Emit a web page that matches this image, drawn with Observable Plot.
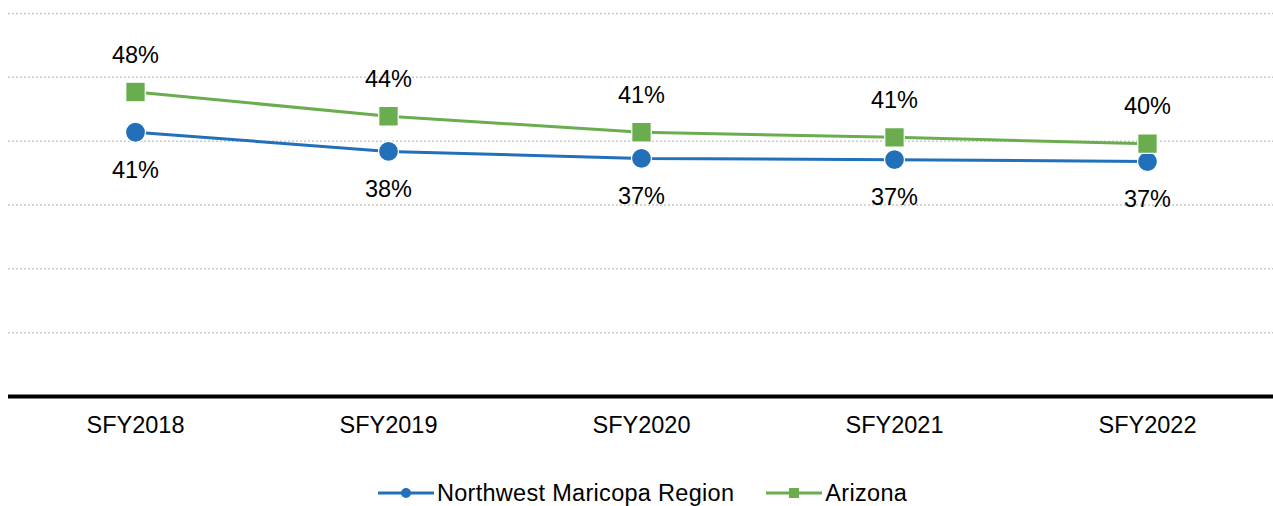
<!DOCTYPE html>
<html>
<head>
<meta charset="utf-8">
<script src="https://cdn.jsdelivr.net/npm/d3@7"></script>
<script src="https://cdn.jsdelivr.net/npm/@observablehq/plot@0.6"></script>
<style>
  html, body { margin: 0; padding: 0; background: #fff; }
  body { width: 1273px; height: 506px; overflow: hidden; font-family: "Liberation Sans", Arial, sans-serif; }
  #legend { height: 46px; margin-top: 10px; display: flex; justify-content: center; align-items: center; gap: 32px; font-size: 23.5px; letter-spacing: 0.3px; color: #000; padding-left: 12px; box-sizing: border-box; }
  .item { display: flex; align-items: center; }
  .item svg { margin-right: 3px; }
</style>
</head>
<body>
<div id="chart"></div>
<div id="legend"></div>
<script>
const years = ["SFY2018", "SFY2019", "SFY2020", "SFY2021", "SFY2022"];
const regionValues = [41.4, 38.4, 37.3, 37.1, 36.8];
const arizonaValues = [47.7, 43.9, 41.4, 40.6, 39.6];
const seriesNames = ["Northwest Maricopa Region", "Arizona"];
const seriesColors = ["#2270b9", "#6aad4f"];
const yTicks = [10, 20, 30, 40, 50, 60];

const region = years.map((y, i) => ({year: y, value: regionValues[i], series: seriesNames[0]}));
const arizona = years.map((y, i) => ({year: y, value: arizonaValues[i], series: seriesNames[1]}));

const fmt = v => Math.round(v) + "%";

const chart = Plot.plot({
  width: 1273,
  height: 460,
  marginLeft: 8,
  marginRight: 0,
  marginTop: 13,
  marginBottom: 64,
  style: {fontFamily: "'Liberation Sans', Arial, sans-serif", fontSize: "23.5px", color: "#000", background: "#fff"},
  x: {type: "point", domain: years, padding: 0.5, label: null, tickSize: 0, tickPadding: 20},
  y: {domain: [0, 60], axis: null},
  marks: [
    Plot.ruleY(yTicks, {stroke: "#c8c8c8", strokeWidth: 1.5, strokeDasharray: "2,2"}),
    Plot.ruleY([0], {stroke: "#000", strokeWidth: 4}),
    Plot.line(region, {x: "year", y: "value", stroke: seriesColors[0], strokeWidth: 3}),
    Plot.line(arizona, {x: "year", y: "value", stroke: seriesColors[1], strokeWidth: 3}),
    Plot.dot(region, {x: "year", y: "value", r: 10, fill: seriesColors[0], stroke: "#fff", strokeWidth: 1.2, symbol: "circle"}),
    Plot.dot(arizona, {x: "year", y: "value", r: 11, fill: seriesColors[1], stroke: "#fff", strokeWidth: 1.2, symbol: "square"}),
    Plot.text(arizona, {x: "year", y: "value", text: d => fmt(d.value), dy: -37, fill: "#000", fontSize: 23.5}),
    Plot.text(region, {x: "year", y: "value", text: d => fmt(d.value), dy: 38, fill: "#000", fontSize: 23.5})
  ]
});
document.getElementById("chart").appendChild(chart);

const legend = document.getElementById("legend");
seriesNames.forEach((name, i) => {
  const item = document.createElement("div");
  item.className = "item";
  const marker = i === 0
    ? `<circle cx="28" cy="10" r="5" fill="${seriesColors[i]}"/>`
    : `<rect x="23" y="5" width="10" height="10" fill="${seriesColors[i]}"/>`;
  item.innerHTML = `<svg width="56" height="20"><line x1="0" x2="56" y1="10" y2="10" stroke="${seriesColors[i]}" stroke-width="3"/>${marker}</svg><span>${name}</span>`;
  legend.appendChild(item);
});
</script>
</body>
</html>
